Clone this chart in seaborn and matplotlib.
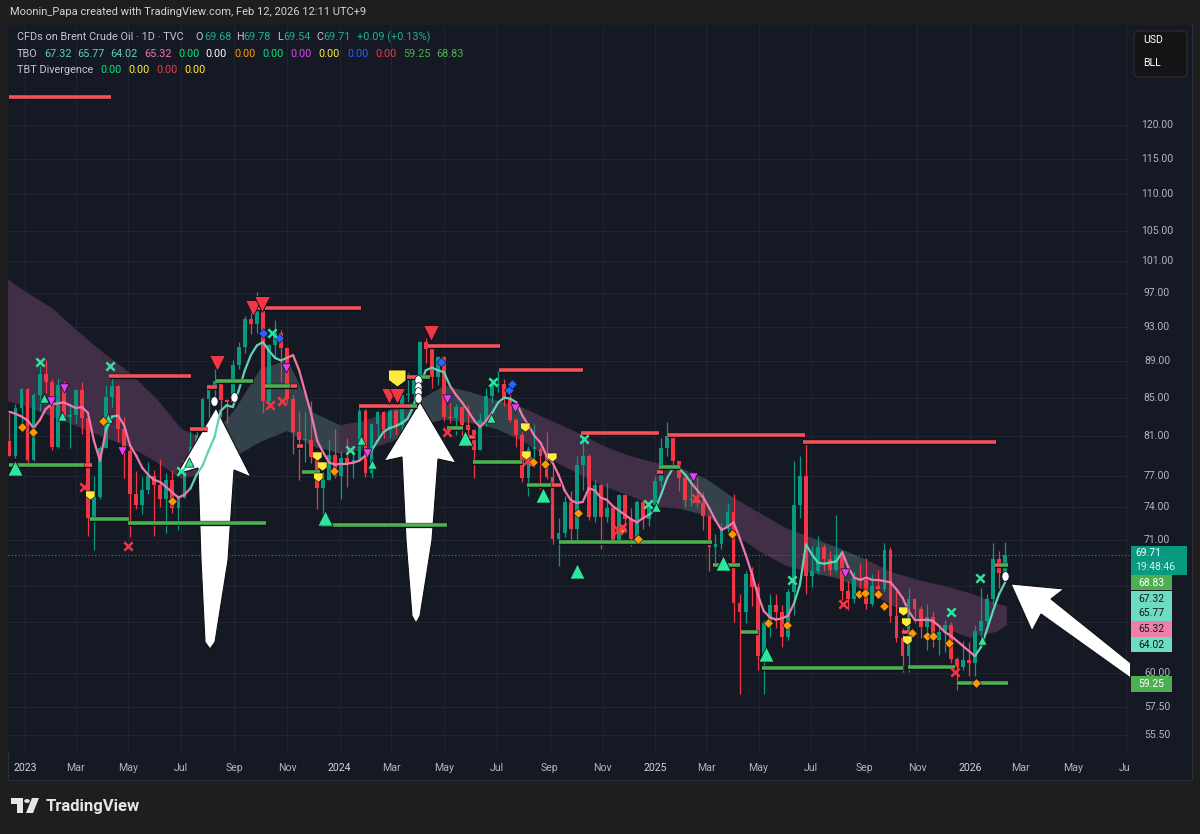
import numpy as np
import pandas as pd
import matplotlib
matplotlib.use("Agg")
import matplotlib.pyplot as plt
import matplotlib.dates as mdates
import matplotlib.patheffects as pe
from matplotlib.patches import Polygon, Rectangle, FancyBboxPatch, Circle
from matplotlib.collections import LineCollection
import seaborn as sns

W, H = 1200, 834

# ---------------- data (Brent CFD, condensed to weekly bars) ----------------
week_start = "2022-12-12"
open_first = 80.5
close = [
    79.0, 83.9, 85.9, 78.6, 85.3, 87.6, 86.7, 79.9, 86.4, 83.0,
    83.2, 85.8, 82.8, 73.0, 75.0, 79.8, 85.1, 86.3, 81.7, 79.5,
    75.3, 74.2, 75.6, 77.0, 76.1, 74.8, 76.6, 73.9, 74.9, 78.5,
    79.9, 81.1, 84.9, 86.2, 86.8, 84.8, 84.5, 88.6, 90.6, 93.9,
    93.3, 95.3, 84.6, 90.9, 92.2, 90.5, 84.9, 81.4, 80.6, 80.6,
    78.9, 75.8, 76.6, 79.1, 77.0, 78.8, 78.3, 78.6, 83.6, 77.3,
    82.2, 83.5, 81.6, 83.6, 82.1, 85.3, 85.4, 87.0, 91.2, 90.4,
    87.3, 89.5, 83.0, 82.8, 84.0, 82.1, 81.6, 79.6, 82.6, 85.2,
    86.4, 86.5, 85.0, 82.6, 81.1, 76.8, 79.7, 79.7, 79.0, 76.9,
    71.1, 71.6, 74.5, 72.0, 78.1, 79.0, 73.1, 76.1, 73.1, 73.9,
    71.0, 75.2, 72.9, 71.1, 74.5, 72.9, 74.2, 76.5, 79.8, 81.0,
    78.5, 76.8, 74.7, 74.7, 74.4, 73.2, 70.4, 70.6, 72.2, 73.6,
    65.6, 64.8, 68.0, 66.9, 61.3, 63.9, 65.4, 64.8, 62.8, 66.5,
    74.2, 77.0, 67.8, 68.3, 70.4, 69.3, 68.4, 69.7, 66.6, 65.9,
    67.7, 67.5, 65.5, 67.0, 66.7, 70.1, 64.5, 62.7, 61.3, 65.9,
    65.1, 63.6, 64.4, 62.6, 63.2, 63.8, 61.1, 60.5, 61.0, 60.8,
    63.3, 64.1, 65.9, 69.3, 68.1, 69.71,
]
high = [
    83.4, 84.3, 86.0, 86.0, 85.5, 88.5, 89.1, 87.0, 87.2, 86.8,
    84.3, 85.9, 86.7, 83.0, 77.0, 80.0, 86.4, 87.5, 86.4, 83.0,
    80.0, 77.5, 76.9, 78.4, 77.6, 78.7, 77.3, 77.6, 75.2, 78.6,
    81.7, 81.5, 85.0, 86.5, 88.1, 87.0, 84.9, 89.2, 91.2, 94.2,
    95.9, 97.2, 95.6, 91.0, 93.8, 92.6, 90.6, 85.3, 83.6, 83.5,
    84.6, 79.5, 77.4, 80.6, 81.7, 79.5, 80.8, 80.0, 84.0, 83.9,
    82.3, 83.6, 83.6, 84.0, 83.9, 85.6, 87.7, 87.4, 91.3, 91.7,
    91.0, 89.6, 89.6, 84.4, 84.3, 84.0, 84.2, 81.7, 83.4, 86.0,
    87.0, 87.9, 87.0, 85.4, 82.9, 81.4, 80.0, 82.2, 79.9, 81.4,
    78.0, 73.0, 75.1, 75.5, 79.0, 81.2, 79.2, 76.6, 76.2, 76.3,
    74.0, 75.3, 75.3, 73.9, 74.7, 74.7, 74.5, 77.0, 80.8, 82.4,
    81.2, 78.5, 77.0, 77.0, 76.9, 75.4, 73.3, 71.5, 72.5, 74.3,
    75.3, 66.3, 68.3, 68.6, 67.2, 64.2, 66.3, 66.3, 65.4, 66.7,
    78.5, 79.0, 80.6, 70.5, 71.4, 70.6, 70.0, 73.3, 69.8, 67.4,
    68.2, 69.0, 69.4, 68.0, 68.4, 70.7, 70.4, 66.6, 63.5, 66.8,
    66.0, 65.3, 65.5, 64.9, 63.8, 64.2, 64.0, 61.2, 62.5, 62.4,
    63.8, 66.8, 66.3, 70.7, 70.0, 70.8,
]
low = [
    79.0, 78.8, 82.0, 77.8, 78.5, 83.6, 85.5, 79.6, 79.8, 82.5,
    79.8, 82.3, 81.2, 71.4, 70.1, 74.8, 79.8, 84.0, 80.4, 76.8,
    71.3, 73.8, 73.4, 75.3, 71.4, 74.0, 71.6, 73.5, 71.9, 74.9,
    77.9, 78.6, 80.9, 82.6, 84.6, 82.9, 82.3, 84.4, 88.1, 89.9,
    92.1, 92.3, 83.4, 84.0, 89.3, 86.7, 84.4, 79.2, 76.6, 78.4,
    78.3, 73.8, 72.3, 76.6, 76.8, 74.8, 75.9, 76.8, 78.5, 76.9,
    76.8, 80.5, 80.8, 80.8, 81.1, 81.3, 84.5, 84.6, 86.7, 88.8,
    86.1, 86.4, 82.5, 82.3, 81.1, 80.6, 81.1, 76.8, 79.6, 82.0,
    84.4, 85.6, 84.1, 82.4, 79.9, 76.4, 75.1, 77.9, 75.7, 76.7,
    70.6, 68.7, 71.3, 70.9, 71.0, 75.6, 72.8, 72.6, 70.2, 72.6,
    70.8, 70.8, 71.6, 70.5, 70.9, 72.0, 72.3, 73.6, 75.9, 79.0,
    77.8, 75.5, 74.0, 74.1, 74.0, 71.9, 68.3, 68.6, 70.2, 71.7,
    64.0, 58.4, 63.9, 65.3, 60.2, 58.4, 62.8, 63.5, 62.0, 62.6,
    64.6, 73.0, 66.3, 66.9, 68.0, 68.3, 67.9, 68.2, 65.8, 65.0,
    65.6, 66.8, 65.1, 65.3, 66.3, 66.5, 64.0, 62.4, 60.1, 60.1,
    63.9, 62.7, 61.8, 62.0, 61.4, 61.6, 60.8, 58.7, 60.2, 59.8,
    59.8, 62.6, 63.5, 65.4, 66.8, 67.9,
]
# TBO fast line, read per week
fast_line = [
    83.5, 83.3, 83.0, 82.6, 81.8, 82.6, 83.8, 84.3, 84.4, 84.5,
    84.2, 83.9, 84.0, 83.4, 80.5, 78.5, 81.6, 83.0, 83.1, 82.1,
    80.0, 79.0, 77.8, 77.1, 76.6, 76.4, 75.9, 75.4, 74.9, 75.2,
    75.8, 77.1, 78.0, 79.5, 80.9, 83.6, 84.2, 84.0, 85.8, 88.0,
    89.7, 90.8, 91.2, 90.2, 89.4, 89.1, 89.4, 89.7, 88.0, 85.6,
    83.3, 80.5, 79.3, 78.3, 78.1, 78.2, 78.2, 78.3, 78.5, 79.0,
    79.5, 80.5, 81.4, 81.8, 82.0, 82.3, 82.8, 84.2, 86.3, 88.0,
    88.3, 88.0, 87.8, 86.3, 85.3, 84.5, 83.6, 82.6, 81.9, 82.6,
    83.4, 84.5, 85.0, 84.9, 84.5, 83.1, 82.1, 81.0, 80.3, 79.0,
    78.3, 77.1, 75.6, 74.7, 74.4, 74.5, 75.8, 75.6, 74.9, 74.7,
    74.1, 73.7, 73.3, 72.9, 72.6, 73.0, 73.3, 73.8, 75.2, 76.8,
    77.8, 77.7, 77.1, 76.3, 75.6, 74.9, 73.9, 72.8, 71.9, 72.2,
    72.6, 71.2, 69.7, 68.1, 66.3, 64.9, 64.4, 64.2, 64.3, 64.5,
    65.5, 67.1, 70.6, 69.7, 69.0, 68.9, 69.0, 69.1, 69.9, 68.6,
    67.7, 67.5, 67.7, 67.5, 67.5, 67.4, 67.3, 66.7, 66.0, 64.9,
    64.2, 64.2, 64.2, 64.1, 63.7, 63.2, 62.9, 62.5, 62.1, 61.7,
    61.3, 62.0, 63.4, 64.9, 66.3, 67.3,
]
teal_start = ["2023-04-04", "2023-07-09", "2024-02-05", "2024-06-23",
              "2024-12-26", "2025-06-12", "2026-01-07"]
teal_end = ["2023-04-18", "2023-11-04", "2024-05-08", "2024-07-22",
            "2025-02-10", "2025-08-09", "2026-02-14"]

cloud_dates = ["2022-12-12"] + [d.strftime("%Y-%m-%d") for d in
                                pd.date_range("2023-01-01", "2026-02-01", freq="MS")] + ["2026-02-12"]
cloud_upper = [98.7, 97.2, 95.2, 92.6, 90.0, 87.8, 85.0, 81.7, 80.5, 83.7,
               88.2, 89.1, 83.4, 82.1, 82.6, 83.7, 84.7, 86.3, 85.6, 84.7,
               83.9, 82.6, 81.4, 80.0, 79.0, 78.3, 77.7, 76.7, 74.9, 73.5,
               72.1, 71.2, 70.3, 69.3, 68.2, 67.5, 67.0, 66.4, 65.5, 65.3]
cloud_lower = [84.7, 84.2, 83.1, 82.1, 81.0, 80.0, 78.5, 76.8, 77.5, 79.0,
               80.5, 81.6, 80.0, 79.3, 79.7, 80.5, 82.1, 82.8, 82.4, 81.8,
               80.5, 78.7, 77.4, 76.1, 75.2, 74.2, 73.9, 73.3, 71.7, 70.1,
               68.8, 68.2, 67.7, 66.7, 65.5, 64.4, 63.6, 62.8, 63.3, 63.8]
cloud_bull = [0, 0, 0, 0, 0, 0, 0, 0, 1, 1,
              1, 1, 1, 0, 0, 1, 1, 1, 1, 1,
              0, 0, 0, 0, 0, 0, 1, 1, 0, 0,
              0, 1, 1, 0, 0, 0, 0, 0, 0, 0]

res_price = [124.3, 87.4, 95.2, 90.8, 88.0, 81.3, 81.1, 80.4, 84.1, 81.7,
             86.2, 87.3, 80.9, 77.4, 80.0, 63.2, 68.83, 76.1, 86.3, 78.1]
res_start = ["2022-12-14", "2023-04-09", "2023-09-24", "2024-04-12", "2024-07-04",
             "2024-10-07", "2025-01-16", "2025-06-22", "2024-01-24", "2023-07-11",
             "2023-07-31", "2024-03-19", "2024-05-23", "2025-01-03", "2023-11-12",
             "2025-10-14", "2026-01-30", "2024-09-02", "2023-11-04", "2023-03-09"]
res_end = ["2023-04-11", "2023-07-13", "2024-01-26", "2024-07-05", "2024-10-09",
           "2025-01-05", "2025-06-24", "2026-02-01", "2024-03-22", "2023-07-31",
           "2023-08-12", "2024-03-31", "2024-06-06", "2025-01-10", "2023-11-20",
           "2025-10-24", "2026-02-05", "2024-09-14", "2023-11-12", "2023-03-20"]

sup_price = [78.1, 72.9, 72.5, 86.8, 86.3, 77.4, 72.4, 87.3, 81.8, 78.4,
             76.1, 70.8, 77.9, 68.8, 63.2, 60.4, 60.5, 59.25, 68.83, 84.1]
sup_start = ["2022-12-13", "2023-03-17", "2023-04-30", "2023-08-11", "2023-10-06",
             "2023-11-18", "2023-12-12", "2024-03-31", "2024-05-04", "2024-06-04",
             "2024-08-05", "2024-09-12", "2025-01-06", "2025-03-09", "2025-04-11",
             "2025-05-05", "2025-10-21", "2025-12-17", "2026-02-05", "2024-03-22"]
sup_end = ["2023-03-10", "2023-05-02", "2023-10-08", "2023-09-22", "2023-11-04",
           "2023-12-09", "2024-05-04", "2024-04-15", "2024-05-23", "2024-07-31",
           "2024-09-02", "2025-03-08", "2025-01-30", "2025-04-09", "2025-04-30",
           "2025-10-15", "2025-12-15", "2026-02-14", "2026-02-14", "2024-03-31"]

up_big_d = ["2022-12-20", "2023-12-15", "2024-05-26", "2024-08-24", "2024-10-02", "2025-03-21", "2025-05-10"]
up_big_p = [77.8, 73.0, 80.8, 75.2, 68.3, 69.0, 61.5]
up_small_d = ["2023-01-23", "2023-02-13", "2023-04-07", "2023-07-10", "2024-01-26",
              "2024-02-07", "2024-06-25", "2025-01-02", "2026-01-15"]
up_small_p = [85.0, 83.1, 82.9, 78.4, 80.6, 78.2, 82.9, 74.0, 62.6]
dn_big_d = ["2023-08-12", "2023-09-22", "2023-10-03", "2024-02-27", "2024-03-07", "2024-04-16"]
dn_big_p = [88.8, 95.2, 95.7, 85.2, 85.2, 92.3]
dn_purple_d = ["2023-01-31", "2023-02-15", "2023-04-24", "2023-10-31", "2024-02-02",
               "2024-05-05", "2024-07-22", "2025-02-14", "2025-08-09"]
dn_purple_p = [84.7, 86.0, 79.5, 88.3, 79.3, 84.9, 83.9, 76.9, 68.1]
blue_d = ["2023-10-04", "2023-10-23", "2024-04-28", "2024-07-15", "2024-07-19"]
blue_p = [92.3, 91.7, 88.9, 85.8, 86.5]
xg_d = ["2023-01-18", "2023-04-10", "2023-10-14", "2023-07-01", "2024-01-13", "2024-06-27",
        "2024-10-11", "2024-12-24", "2025-06-09", "2025-12-10", "2026-01-13"]
xg_p = [88.9, 88.5, 92.2, 77.5, 79.6, 86.7, 80.7, 74.3, 67.5, 64.8, 67.7]
xr_d = ["2023-03-11", "2023-05-01", "2023-10-12", "2023-10-26", "2024-05-05", "2024-08-05",
        "2024-11-19", "2024-11-24", "2025-02-18", "2025-08-07", "2025-12-15"]
xr_p = [75.9, 70.5, 84.2, 84.7, 81.4, 78.5, 71.9, 72.2, 74.9, 65.5, 60.1]
orange_d = ["2022-12-29", "2023-01-10", "2023-04-01", "2023-06-20", "2023-12-25", "2024-08-12",
            "2024-08-26", "2024-10-04", "2024-11-24", "2024-12-12", "2025-03-31", "2025-05-12",
            "2025-06-03", "2025-08-25", "2025-09-02", "2025-09-17", "2025-09-24", "2025-10-26",
            "2025-11-12", "2025-11-19", "2025-12-08", "2026-01-08"]
orange_p = [81.9, 81.4, 82.5, 74.6, 77.5, 78.4, 78.2, 73.5, 72.0, 71.1, 71.5, 63.9,
            63.8, 66.3, 66.4, 66.3, 65.3, 63.1, 62.9, 62.9, 62.3, 59.25]
yellow_d = ["2023-03-18", "2023-12-06", "2023-12-12", "2023-12-07", "2024-08-03",
            "2024-08-04", "2024-09-03", "2025-10-15", "2025-10-19", "2025-10-20"]
yellow_p = [75.2, 79.0, 78.0, 76.9, 81.9, 79.1, 78.9, 64.9, 64.0, 62.6]
yellow_big_d = ["2024-03-08"]
yellow_big_p = [87.2]
white_d = ["2023-08-08", "2023-09-01", "2024-04-01", "2024-04-01", "2024-04-01", "2024-04-01", "2026-02-11"]
white_p = [84.7, 85.1, 86.9, 86.2, 85.6, 85.0, 67.8]

price_ticks = [120, 115, 110, 105, 101, 97, 93, 89, 85, 81, 77, 74, 71, 67, 64, 60, 57.5, 55.5]
price_labels = ["120.00", "115.00", "110.00", "105.00", "101.00", "97.00", "93.00", "89.00",
                "85.00", "81.00", "77.00", "74.00", "71.00", "", "", "60.00", "57.50", "55.50"]

tbo_values = ["67.32", "65.77", "64.02", "65.32", "0.00", "0.00", "0.00", "0.00",
              "0.00", "0.00", "0.00", "0.00", "59.25", "68.83"]
tbo_colors = ["#5fd2b4", "#5fd2b4", "#5fd2b4", "#f078aa", "#00e676", "#ffffff", "#ff9800",
              "#00e676", "#e040fb", "#ffeb3b", "#2962ff", "#f23645", "#4caf50", "#4caf50"]
tbt_values = ["0.00", "0.00", "0.00", "0.00"]
tbt_colors = ["#00e676", "#ffeb3b", "#f23645", "#ffeb3b"]

# ---------------- style ----------------
BG = "#151924"
OUT = "#1e1e1e"
GRID = "#212532"
FS = 7.8
sns.set_theme(style="dark", rc={"axes.facecolor": BG, "figure.facecolor": OUT})
plt.rcParams["font.family"] = ["Roboto", "DejaVu Sans"]

def fx(px):
    return px / W

def fy(py):
    return 1 - py / H

def dnum(seq):
    return mdates.date2num(pd.to_datetime(seq))

fig = plt.figure(figsize=(W / 100, H / 100), dpi=100, facecolor=OUT)
fig.add_artist(Rectangle((fx(8), fy(780)), 1184 / W, 755 / H, transform=fig.transFigure,
                         facecolor=BG, edgecolor="#2a2e39", lw=0.8, zorder=-1))

ax = fig.add_axes([fx(8), fy(752), 1122 / W, 727 / H], facecolor=BG)
base = mdates.date2num(pd.Timestamp("2023-01-01"))
ax.set_xlim(base - 19.7, base + 1281.9)
ax.set_yscale("log")
ax.set_ylim(54.3, 136.2)
for s in ax.spines.values():
    s.set_visible(False)

ticks = pd.date_range("2023-01-01", "2026-07-01", freq="2MS")
ax.set_xticks(mdates.date2num(ticks))
ax.set_xticklabels([str(t.year) if t.month == 1 else t.strftime("%b") for t in ticks])
ax.tick_params(axis="x", length=0, pad=8, labelsize=7.6, labelcolor="#b2b5be")
for t, lab in zip(ticks, ax.get_xticklabels()):
    if t.month == 1:
        lab.set_color("#d1d4dc")
ax.set_yticks(price_ticks)
ax.yaxis.set_minor_locator(matplotlib.ticker.NullLocator())
ax.tick_params(axis="y", left=False, labelleft=False)
ax.grid(True, color=GRID, lw=0.8)
ax.set_axisbelow(True)

# cloud
cx = dnum(cloud_dates)
for i in range(len(cx) - 1):
    col = "#34434b" if cloud_bull[i] else "#412e47"
    ax.fill_between(cx[i:i + 2], cloud_lower[i:i + 2], cloud_upper[i:i + 2],
                    facecolor=col, edgecolor=col, lw=0.6, zorder=1.5)

# candles
xs = dnum(pd.date_range(week_start, periods=len(close), freq="7D")) + 2
opens = [open_first] + close[:-1]
up = np.array(close) >= np.array(opens)
ccol = np.where(up, "#089981", "#f23645")
ax.vlines(xs, low, high, colors=ccol, lw=0.9, zorder=2)
bottoms = np.minimum(opens, close)
heights = np.maximum(np.abs(np.array(close) - np.array(opens)), 0.12)
ax.bar(xs, heights, bottom=bottoms, width=4.4, color=ccol, linewidth=0, zorder=2)

# current price dotted line
ax.axhline(close[-1], color="#089981", lw=0.8, ls=(0, (1, 2)), zorder=2.5)

# big white arrows
arrows = [
    [(216, 408), (251, 477), (234, 470), (228, 560), (215, 642), (210, 649), (205, 642), (201, 560), (198, 468), (177, 474)],
    [(420, 402), (456, 463), (438, 459), (432, 540), (420, 616), (416, 623), (412, 616), (406, 540), (402, 457), (384, 461)],
    [(1011, 584), (1064, 589), (1051, 599), (1132, 664), (1132, 679), (1041, 614), (1032, 631)],
]
for poly in arrows:
    ax.add_patch(Polygon([(fx(a), fy(b)) for a, b in poly], closed=True, transform=fig.transFigure,
                         facecolor="white", edgecolor="#0d0f14", lw=0.8, zorder=3, clip_on=False))

# fast line coloured by regime
pts = np.column_stack([xs, fast_line])
segs = [pts[i:i + 2] for i in range(len(pts) - 1)]
ts, te = dnum(teal_start), dnum(teal_end)
seg_cols = []
for i in range(len(segs)):
    m = (xs[i] + xs[i + 1]) / 2
    seg_cols.append("#5fd2b4" if any((m >= a) & (m <= b) for a, b in zip(ts, te)) else "#f078aa")
ax.add_collection(LineCollection(segs, colors=seg_cols, linewidths=1.6, capstyle="round", zorder=5))

# support / resistance levels
stroke = [pe.withStroke(linewidth=3.8, foreground="#0d0f14")]
for p, a, b in zip(res_price, dnum(res_start), dnum(res_end)):
    ax.hlines(p, a, b, color="#f4515b", lw=2.6, zorder=6, path_effects=stroke)
for p, a, b in zip(sup_price, dnum(sup_start), dnum(sup_end)):
    ax.hlines(p, a, b, color="#4caf50", lw=2.6, zorder=6, path_effects=stroke)

# signal markers
shield = [(-1, 1), (1, 1), (1, -0.25), (0, -1), (-1, -0.25)]
oval = [(0.75 * np.cos(t), np.sin(t)) for t in np.linspace(0, 2 * np.pi, 24)]
def put(d, p, **kw):
    sns.scatterplot(x=dnum(d), y=p, ax=ax, legend=False, zorder=7, **kw)

put(up_big_d, up_big_p, marker="^", s=120, color="#2ee59d", edgecolor="#0d0f14", linewidth=0.6)
put(up_small_d, up_small_p, marker="^", s=45, color="#2ee59d", edgecolor="#0d0f14", linewidth=0.5)
put(dn_big_d, dn_big_p, marker="v", s=130, color="#f23645", edgecolor="#0d0f14", linewidth=0.6)
put(dn_purple_d, dn_purple_p, marker="v", s=45, color="#e040fb", edgecolor="#0d0f14", linewidth=0.5)
put(blue_d, blue_p, marker="D", s=24, color="#2962ff", edgecolor="#0d0f14", linewidth=0.4)
put(orange_d, orange_p, marker="D", s=24, color="#ff9800", edgecolor="#0d0f14", linewidth=0.4)
put(xg_d, xg_p, marker="x", s=36, color="#2ee59d", linewidth=1.8)
put(xr_d, xr_p, marker="x", s=36, color="#f23645", linewidth=1.8)
put(yellow_d, yellow_p, marker=shield, s=42, color="#ffeb3b", edgecolor="#0d0f14", linewidth=0.4)
put(yellow_big_d, yellow_big_p, marker=shield, s=150, color="#ffeb3b", edgecolor="#0d0f14", linewidth=0.6)
put(white_d, white_p, marker=oval, s=48, color="white", edgecolor="#0d0f14", linewidth=0.5)

# price scale panel
axp = fig.add_axes([fx(1130), fy(752), 62 / W, 727 / H], facecolor=BG, sharey=ax)
axp.set_xlim(0, 1)
axp.tick_params(left=False, labelleft=False, bottom=False, labelbottom=False)
axp.grid(False)
for s in axp.spines.values():
    s.set_visible(False)
for p, lab in zip(price_ticks, price_labels):
    if lab:
        axp.text(0.435, p, lab, ha="center", va="center", color="#b2b5be", fontsize=7.5)
fig.add_artist(Rectangle((fx(1130), fy(780)), 62 / W, 28 / H, transform=fig.transFigure,
                         facecolor=BG, edgecolor="none", zorder=1))

# stacked value labels on the scale
boxes = [
    (546, 575, 56, "#089981", None),
    (575, 590, 41, "#4caf50", "68.83"),
    (591, 606, 41, "#6ddcc0", "67.32"),
    (606, 621, 41, "#6ddcc0", "65.77"),
    (621, 637, 41, "#f080aa", "65.32"),
    (637, 652, 41, "#6ddcc0", "64.02"),
    (676, 692, 41, "#4caf50", "59.25"),
]
for top, bot, wid, col, txt in boxes:
    fig.add_artist(Rectangle((fx(1131), fy(bot)), wid / W, (bot - top) / H, transform=fig.transFigure,
                             facecolor=col, edgecolor="none", zorder=2))
    if txt:
        tc = "white" if col == "#4caf50" else "#131722"
        fig.text(fx(1151.5), fy((top + bot) / 2), txt, ha="center", va="center",
                 color=tc, fontsize=7.5, zorder=3)
fig.text(fx(1135), fy(553), f"{close[-1]:.2f}", ha="left", va="center", color="white", fontsize=7.5, zorder=3)
fig.text(fx(1135), fy(567), "19:48:46", ha="left", va="center", color="#d8f3ec", fontsize=7.5, zorder=3)

# header & legend
fig.text(fx(10), fy(12), "Moonin_Papa created with TradingView.com, Feb 12, 2026 12:11 UTC+9",
         ha="left", va="center", color="#d1d4dc", fontsize=8.0)
GREY = "#c3c6ce"
TEAL = "#22ab94"
row1 = [("CFDs on Brent Crude Oil · 1D · TVC", 17, GREY), ("O", 195, GREY), ("69.68", 204, TEAL),
        ("H", 236, GREY), ("69.78", 243, TEAL), ("L", 277, GREY), ("69.54", 283, TEAL),
        ("C", 316, GREY), ("69.71", 323, TEAL), ("+0.09 (+0.13%)", 357, TEAL)]
for txt, x, c in row1:
    fig.text(fx(x), fy(37), txt, ha="left", va="center", color=c, fontsize=FS, zorder=3)
fig.text(fx(17), fy(54), "TBO", ha="left", va="center", color=GREY, fontsize=FS, zorder=3)
for txt, x, c in zip(tbo_values, [44, 77, 110, 144, 178, 205, 234, 262, 290, 318, 347, 375, 403, 436], tbo_colors):
    fig.text(fx(x), fy(54), txt, ha="left", va="center", color=c, fontsize=FS, zorder=3)
fig.text(fx(17), fy(70), "TBT Divergence", ha="left", va="center", color=GREY, fontsize=FS, zorder=3)
for txt, x, c in zip(tbt_values, [100, 128, 156, 184], tbt_colors):
    fig.text(fx(x), fy(70), txt, ha="left", va="center", color=c, fontsize=FS, zorder=3)

# currency box
fig.add_artist(FancyBboxPatch((fx(1134), fy(77)), 53 / W, 46 / H, boxstyle="round,pad=0,rounding_size=0.005",
                              transform=fig.transFigure, facecolor="#141416", edgecolor="#2e2e32", lw=0.8, zorder=2))
fig.text(fx(1143), fy(40), "USD", ha="left", va="center", color="white", fontsize=7.6, zorder=3)
fig.text(fx(1143), fy(63), "BLL", ha="left", va="center", color="white", fontsize=7.6, zorder=3)

# TradingView logo
LOGO = "#e6e6e6"
fig.add_artist(Polygon([(fx(a), fy(b)) for a, b in [(11, 798), (23, 798), (23, 813), (17, 813), (17, 804), (11, 804)]],
                       transform=fig.transFigure, facecolor=LOGO, edgecolor="none"))
fig.add_artist(Circle((fx(27), fy(801)), 2.8 / W, transform=fig.transFigure, facecolor=LOGO, edgecolor="none"))
fig.add_artist(Polygon([(fx(a), fy(b)) for a, b in [(32, 798), (39, 798), (33, 813), (26, 813)]],
                       transform=fig.transFigure, facecolor=LOGO, edgecolor="none"))
fig.text(fx(46), fy(806), "TradingView", ha="left", va="center", color=LOGO, fontsize=12, fontweight="bold")

fig.savefig("out.png", dpi=100, facecolor=OUT)
